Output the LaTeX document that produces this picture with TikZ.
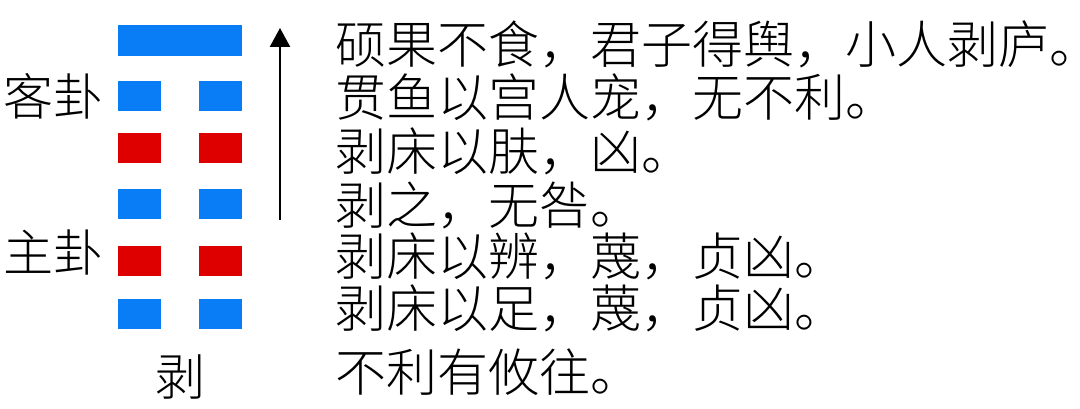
\documentclass[tikz,border=0pt]{standalone}
\usepackage{fontspec}
\setmainfont{Noto Sans CJK SC}[UprightFont={* Light}]
\usetikzlibrary{arrows.meta}
\definecolor{yaoblue}{RGB}{8,125,245}
\definecolor{yaored}{RGB}{222,0,0}
\tikzset{
  bar/.style={rectangle, inner sep=0pt, outer sep=0pt, minimum height=30pt},
  yangbar/.style={bar, fill=yaoblue, minimum width=124pt},
  yinblue/.style={bar, fill=yaoblue, minimum width=43pt},
  yinred/.style={bar, fill=yaored, minimum width=43pt},
  txt/.style={inner sep=0pt, outer sep=0pt, anchor=base west, font=\fontsize{51}{60}\selectfont},
  lbl/.style={inner sep=0pt, outer sep=0pt, anchor=base, font=\fontsize{50}{60}\selectfont},
}
\begin{document}
\begin{tikzpicture}[x=1pt,y=-1pt]
\useasboundingbox (0,0) rectangle (1080,409);
\fill[white] (0,0) rectangle (1080,409);
% hexagram
\node[yangbar, minimum height=31pt] (y6) at (180,40.5) {};
\node[yinblue] (y5l) at (139.5,96) {};
\node[yinblue] (y5r) at (220.5,96) {};
\node[yinred] (y4l) at (139.5,148.5) {};
\node[yinred] (y4r) at (220.5,148.5) {};
\node[yinblue] (y3l) at (139.5,204.5) {};
\node[yinblue] (y3r) at (220.5,204.5) {};
\node[yinred] (y2l) at (139.5,260.5) {};
\node[yinred] (y2r) at (220.5,260.5) {};
\node[yinblue] (y1l) at (139.5,314) {};
\node[yinblue] (y1r) at (220.5,314) {};
% arrow
\coordinate (abot) at (280,220);
\coordinate (atop) at (280,28);
\draw[line width=2.5pt, -{Triangle[width=20pt,length=19pt]}] (abot) -- (atop);
% labels
\node[lbl] (ke) at (54,116) {客卦};
\node[lbl] (zhu) at (54,272) {主卦};
\node[lbl] (bo) at (180,395) {剥};
% text lines
\node[txt] (t6) at (335,64) {硕果不食，君子得舆，小人剥庐\makebox[0.5em][l]{。}};
\node[txt] (t5) at (335,117) {贯鱼以宫人宠，无不利。};
\node[txt] (t4) at (335,171) {剥床以肤，凶。};
\node[txt] (t3) at (335,225) {剥之，无咎。};
\node[txt] (t2) at (335,275) {剥床以辨，蔑，贞凶。};
\node[txt] (t1) at (335,327) {剥床以足，蔑，贞凶。};
\node[txt] (t0) at (335,391) {不利有攸往。};
\end{tikzpicture}
\end{document}
